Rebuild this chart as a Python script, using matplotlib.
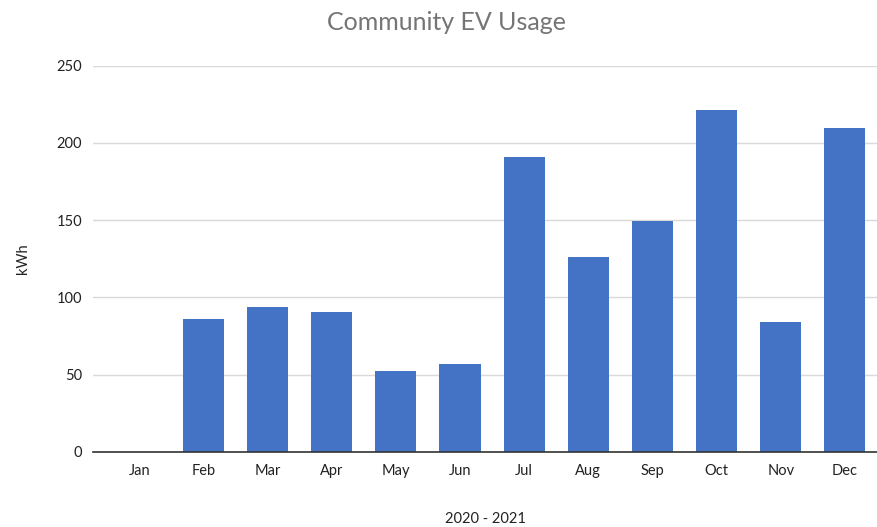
import matplotlib
matplotlib.use("Agg")
import matplotlib.pyplot as plt

months = ["Jan", "Feb", "Mar", "Apr", "May", "Jun", "Jul", "Aug", "Sep", "Oct", "Nov", "Dec"]
usage_kwh = [0, 85.8, 93.9, 90.7, 52.5, 56.6, 190.7, 126.3, 149.4, 221.1, 83.8, 209.8]
y_ticks = [0, 50, 100, 150, 200, 250]

plt.rcParams['font.family'] = ['Lato', 'DejaVu Sans']

fig = plt.figure(figsize=(8.77, 5.27), dpi=100)
ax = fig.add_axes([93/877, (527-451.7)/527, (877-93)/877, (451.7-65.7)/527])

x = list(range(len(months)))
ax.bar(x, usage_kwh, width=0.64, color="#4472c4", zorder=3)

ax.set_ylim(0, 250)
ax.set_xlim(-0.72, 11.5)
ax.set_yticks(y_ticks)
ax.set_yticklabels([str(v) for v in y_ticks])
ax.set_xticks(x)
ax.set_xticklabels(months)
ax.grid(axis="y", color="#d9d9d9", linewidth=1, zorder=0)
for s in ["top", "right", "left"]:
    ax.spines[s].set_visible(False)
ax.spines["bottom"].set_color("#333333")
ax.spines["bottom"].set_linewidth(1.2)
ax.spines["bottom"].set_zorder(4)
ax.tick_params(axis="both", length=0, labelsize=10.5, colors="#222222")
ax.tick_params(axis="x", pad=9)
ax.tick_params(axis="y", pad=8)

ax.set_xlabel("2020 - 2021", fontsize=10.5, color="#222222", labelpad=24)
ax.set_ylabel("kWh", fontsize=10.5, color="#222222", labelpad=19)
fig.text(447/877, 1 - 22/527, "Community EV Usage", ha="center", va="center",
         fontsize=18, color="#757575")

fig.savefig("out.png", dpi=100)
